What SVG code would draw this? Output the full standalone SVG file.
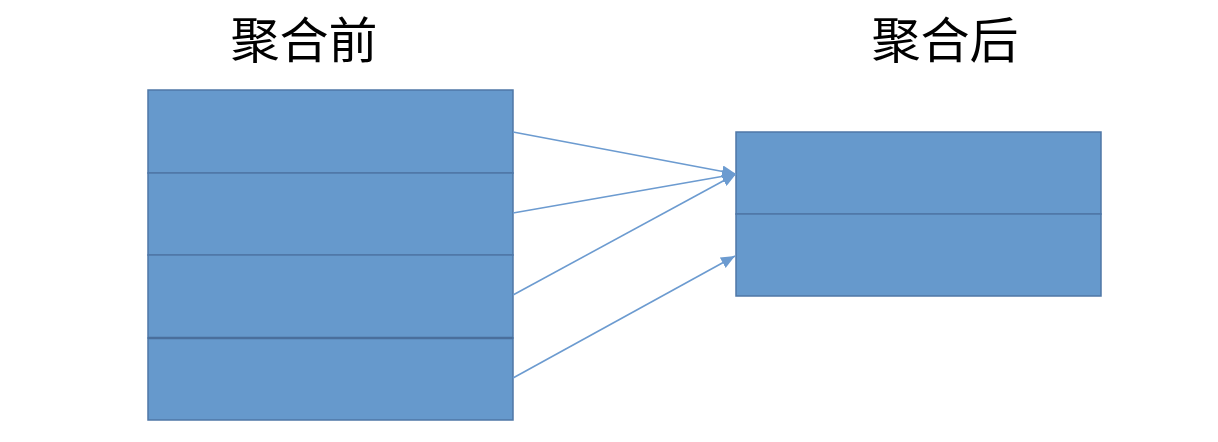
<svg xmlns="http://www.w3.org/2000/svg" width="1218" height="442" viewBox="0 0 1218 442">
<style>
.t{font-family:"Noto Sans CJK SC","Liberation Sans",sans-serif;font-size:49px;fill:#000;text-anchor:middle}
.cell{fill:#6699CC;stroke:#4F77A6;stroke-width:1.5}
.con{stroke:#6C9BD0;stroke-width:1.6;fill:none;marker-end:url(#ah)}
</style>
<defs>
<marker id="ah" viewBox="0 0 14 12" refX="14" refY="6" markerWidth="14" markerHeight="12" orient="auto" markerUnits="userSpaceOnUse">
<path d="M0,0 L14,6 L0,12 z" fill="#6C9BD0"/>
</marker>
</defs>
<rect width="1218" height="442" fill="#fff"/>
<text class="t" x="304" y="58">聚合前</text>
<text class="t" x="945" y="58">聚合后</text>
<g id="before">
<rect class="cell" x="148" y="90" width="365" height="83"/>
<rect class="cell" x="148" y="173" width="365" height="82"/>
<rect class="cell" x="148" y="255" width="365" height="83"/>
<rect class="cell" x="148" y="338" width="365" height="82"/>
<line x1="148" y1="338" x2="513" y2="338" stroke="#4A6F9C" stroke-width="2.5"/>
</g>
<g id="after">
<rect class="cell" x="736" y="132" width="365" height="82"/>
<rect class="cell" x="736" y="214" width="365" height="82"/>
</g>
<g id="connectors">
<line class="con" x1="513" y1="132" x2="736" y2="174"/>
<line class="con" x1="513" y1="213" x2="736" y2="174"/>
<line class="con" x1="513" y1="295" x2="736" y2="174"/>
<line class="con" x1="513" y1="378" x2="735" y2="256"/>
</g>
</svg>
